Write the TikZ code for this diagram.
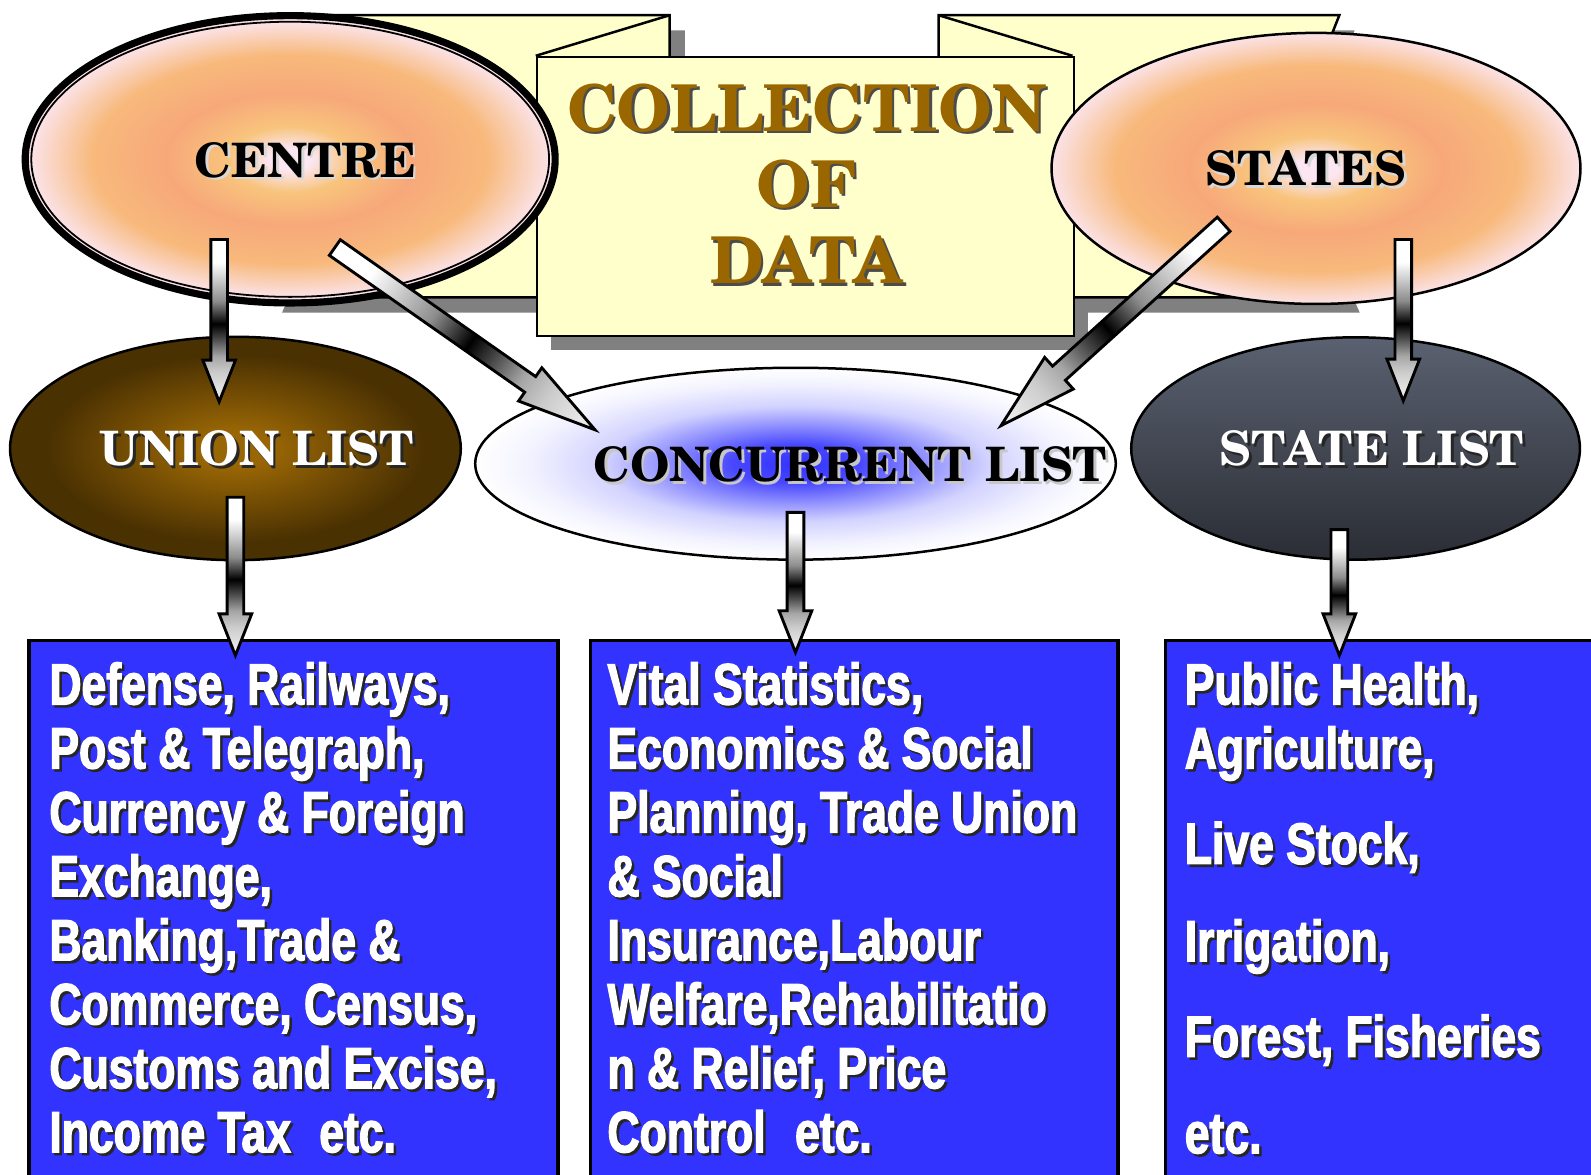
\documentclass[tikz,border=0pt]{standalone}
\usepackage{fontspec}
\usetikzlibrary{shapes.geometric,calc}

\newfontfamily\listfont{Liberation Sans}[FakeStretch=0.765,BoldFeatures={FakeBold=2.2}]
\newfontfamily\titlefont{texgyreschola-bold.otf}

\definecolor{ribbon}{HTML}{FFFFCC}
\definecolor{ribbonshadow}{HTML}{808080}
\definecolor{gold}{HTML}{996600}
\definecolor{listblue}{HTML}{3333FF}
\definecolor{peachcore}{HTML}{FBE6F2}
\definecolor{peachmid}{HTML}{F8C47C}
\definecolor{peachring}{HTML}{F7A87A}
\definecolor{peachedge}{HTML}{FBE2E6}
\definecolor{unioncore}{HTML}{996605}
\definecolor{unionedge}{HTML}{4A3102}
\definecolor{slatetop}{HTML}{5A6170}
\definecolor{slatebottom}{HTML}{2A2D34}

% radial fills, the oval border sits at 25bp
\pgfdeclareradialshading{peach}{\pgfpoint{0bp}{0bp}}{%
  color(0bp)=(peachcore); color(2bp)=(peachcore); color(6bp)=(peachmid);
  color(12bp)=(peachring); color(19bp)=(peachmid!60!peachring);
  color(25bp)=(peachedge); color(50bp)=(peachedge)}
\pgfdeclareradialshading{unionglow}{\pgfpoint{0bp}{0bp}}{%
  color(0bp)=(unioncore); color(4bp)=(unioncore); color(21bp)=(unionedge);
  color(50bp)=(unionedge)}
\pgfdeclareradialshading{blueglow}{\pgfpoint{0bp}{0bp}}{%
  color(0bp)=(listblue); color(5bp)=(listblue!90!white); color(10bp)=(listblue!55!white);
  color(15bp)=(listblue!22!white); color(21bp)=(listblue!6!white);
  color(25bp)=(white); color(50bp)=(white)}
% block arrows: tail at 25bp, tip at 75bp
\pgfdeclarehorizontalshading{tube}{100bp}{%
  color(0bp)=(white); color(32bp)=(white); color(44bp)=(black!45); color(51bp)=(black);
  color(55bp)=(black!75); color(61bp)=(black!35); color(66bp)=(black!20);
  color(75bp)=(black!4); color(100bp)=(black!4)}

% text with a drop shadow: shadow colour, style, name, position, text
\newcommand\shadowtext[5][black!80]{%
  \node[#2, text=#1] at ($(#4)+(2.5,2.5)$) {#5};
  \node[#2] (#3) at (#4) {#5};}

% block arrow: tail, tip, shaft half width, head half width, head length
\newcommand\blockarrow[5]{%
  \path let \p1=($(#2)-(#1)$) in
    \pgfextra{\pgfmathparse{atan2(\y1,\x1)}\xdef\arrowangle{\pgfmathresult}%
              \pgfmathparse{veclen(\x1,\y1)}\xdef\arrowlength{\pgfmathresult pt}};
  \begin{scope}[transform canvas={shift={(#1)}, rotate=\arrowangle}]
    \shade[shading=tube, draw=black, line width=0.8pt, line join=miter]
      (0pt,#3) -- ({\arrowlength-#5},#3) -- ({\arrowlength-#5},#4) -- (\arrowlength,0pt)
      -- ({\arrowlength-#5},-#4) -- ({\arrowlength-#5},-#3) -- (0pt,-#3) -- cycle;
  \end{scope}}

\begin{document}
\begin{tikzpicture}[x=0.01cm, y=-0.01cm,
    panel/.style={fill=ribbon, draw=black, line width=0.7pt},
    oval/.style={ellipse, draw=black, line width=0.7pt, inner sep=0pt},
    heading/.style={font=\titlefont\fontsize{18.1}{21.34}\selectfont, text=gold,
      align=center, inner sep=0pt},
    title/.style={font=\titlefont\fontsize{13.3}{16}\selectfont, inner sep=0pt},
    listbox/.style={fill=listblue, draw=black, line width=0.9pt, anchor=north west,
      inner sep=0pt, minimum height=6cm},
    listtext/.style={font=\listfont\bfseries\fontsize{16.3}{17.93}\selectfont,
      text=white, align=left, anchor=north west, inner sep=0pt}]

  \useasboundingbox (0,0) rectangle (1568,1158);
  \clip (0,0) rectangle (1568,1158);

  % ribbon behind the heading
  \fill[ribbonshadow] (278,30) -- (675,30) -- (675,308) -- (278,308) -- (338,169) -- cycle;
  \fill[ribbonshadow] (940,30) -- (1335,30) -- (1280,169) -- (1340,308) -- (940,308) -- cycle;
  \fill[ribbonshadow] (543,70) rectangle (1072,345);
  \draw[panel] (263,15) -- (660,15) -- (660,293) -- (263,293) -- (323,154) -- cycle;
  \draw[panel] (925,15) -- (1320,15) -- (1265,154) -- (1325,293) -- (925,293) -- cycle;
  \draw[line width=0.7pt] (660,15) -- (528,55) (925,15) -- (1057,55);
  \node[panel, anchor=north west, inner sep=0pt, minimum width=5.29cm,
    minimum height=2.75cm] (front) at (528,55) {};
  \shadowtext[black!70]{heading}{heading}{795,181}{COLLECTION\\OF\\DATA}

  % upper ovals
  \node[oval, line width=2pt, fill=peachedge, minimum width=5.22cm,
    minimum height=2.83cm] (centre) at (286,157) {};
  \node[oval, line width=0.5pt, shade, shading=peach, minimum width=5.1cm,
    minimum height=2.71cm] (centre-in) at (centre) {};
  \shadowtext[black!15]{title}{centre-t}{301,158}{CENTRE}
  \node[oval, shade, shading=peach, minimum width=5.21cm, minimum height=2.67cm]
    (states) at (1297,166) {};
  \shadowtext[black!15]{title}{states-t}{1287,166}{STATES}

  % lower ovals
  \node[oval, shade, shading=unionglow, minimum width=4.44cm, minimum height=2.2cm]
    (union) at (232,442) {};
  \shadowtext[black!85]{title, text=white}{union-t}{253,442}{UNION LIST}
  \node[oval, shade, shading=blueglow, minimum width=6.31cm, minimum height=1.89cm]
    (concurrent) at (784,457) {};
  \shadowtext[black!22]{title}{concurrent-t}{838,458}{CONCURRENT LIST}
  \node[oval, top color=slatetop, bottom color=slatebottom, minimum width=4.42cm,
    minimum height=2.19cm] (statelist) at (1336,442) {};
  \shadowtext[black!85]{title, text=white}{statelist-t}{1352,442}{STATE LIST}

  % subject lists
  \node[listbox, minimum width=5.21cm] (unionbox) at (27,630) {};
  \node[listbox, minimum width=5.2cm] (concurrentbox) at (580,630) {};
  \node[listbox, minimum width=5cm] (statebox) at (1147,630) {};

  \shadowtext[black!85]{listtext}{uniontext}{48,652}{Defense, Railways,\\
    Post \& Telegraph,\\Currency \& Foreign\\Exchange,\\Banking,Trade \&\\
    Commerce, Census,\\Customs and Excise,\\Income Tax\hspace{0.28cm}etc.}
  \shadowtext[black!85]{listtext}{concurrenttext}{598,652}{Vital Statistics,\\
    Economics \& Social\\Planning, Trade Union\\\& Social\\Insurance,Labour\\
    Welfare,Rehabilitatio\\n \& Relief, Price\\Control\hspace{0.29cm}etc.}
  \shadowtext[black!85]{listtext}{statetext}{1167,652}{Public Health,\\
    Agriculture,\\[0.31cm]Live Stock,\\[0.33cm]Irrigation,\\[0.31cm]
    Forest, Fisheries\\[0.32cm]etc.}

  % arrow ends
  \coordinate (centre-out1) at (216,236);
  \coordinate (union-in) at (216,396);
  \coordinate (centre-out2) at (330,244);
  \coordinate (concurrent-in1) at (587,424);
  \coordinate (states-out1) at (1206,221);
  \coordinate (concurrent-in2) at (986,420);
  \coordinate (states-out2) at (1383,236);
  \coordinate (statelist-in) at (1383,395);
  \coordinate (union-out) at (232,490);
  \coordinate (unionbox-in) at (232,646);
  \coordinate (concurrent-out) at (784,505);
  \coordinate (concurrentbox-in) at (784,643);
  \coordinate (statelist-out) at (1320,522);
  \coordinate (statebox-in) at (1320,646);

  \foreach \a/\b in {centre-out1/union-in, states-out2/statelist-in,
      union-out/unionbox-in, concurrent-out/concurrentbox-in, statelist-out/statebox-in}
    {\blockarrow{\a}{\b}{0.082cm}{0.161cm}{0.41cm}}
  \blockarrow{centre-out2}{concurrent-in1}{0.094cm}{0.2cm}{0.78cm}
  \blockarrow{states-out1}{concurrent-in2}{0.094cm}{0.21cm}{0.77cm}
\end{tikzpicture}
\end{document}
